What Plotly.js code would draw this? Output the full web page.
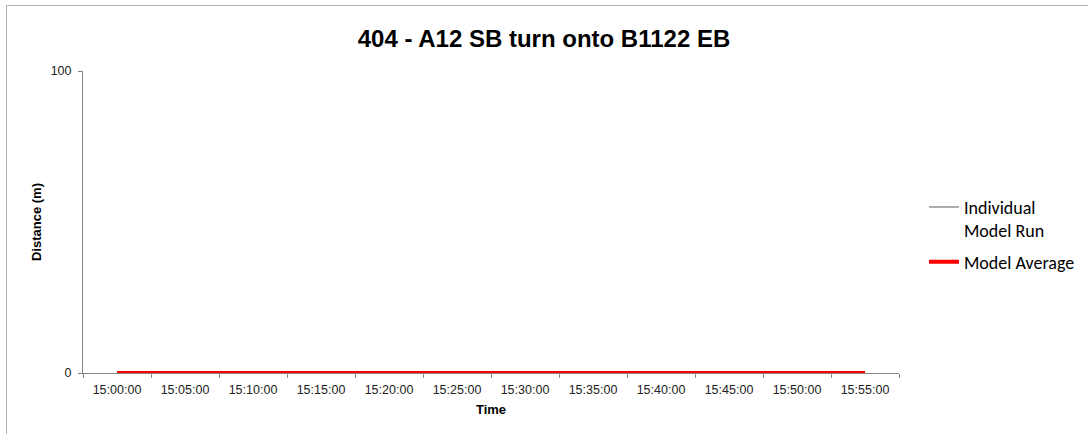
<!DOCTYPE html>
<html><head><meta charset="utf-8">
<script src="https://cdn.plot.ly/plotly-3.0.1.min.js"></script>
<style>
html,body{margin:0;padding:0;background:#fff;}
#wrap{position:relative;width:1088px;height:434px;overflow:hidden;}
#chart{position:absolute;left:0;top:0;width:1088px;height:434px;}
#frame{position:absolute;left:6px;top:5px;width:1200px;height:600px;border:1px solid #b0b0b0;pointer-events:none;}
</style>
</head><body>
<div id="wrap"><div id="chart"></div><div id="frame"></div></div>
<script>
const times = ["15:00:00","15:05:00","15:10:00","15:15:00","15:20:00","15:25:00","15:30:00","15:35:00","15:40:00","15:45:00","15:50:00","15:55:00"];
const individualRun = [0,0,0,0,0,0,0,0,0,0,0,0];
const modelAverage = [0,0,0,0,0,0,0,0,0,0,0,0];

const traces = [
  {x: times, y: individualRun, type:'scatter', mode:'lines', name:'Individual<br>Model Run',
   legendgroup:'run', line:{color:'#595959', width:1}},
  {x: times, y: modelAverage, type:'scatter', mode:'lines', name:'Model Average',
   legendgroup:'avg', line:{color:'#ff0000', width:4}}
];

const F = 'Liberation Sans, Arial, sans-serif';
const layout = {
  width:1088, height:434,
  margin:{l:83, r:189, t:71, b:61, autoexpand:false},
  paper_bgcolor:'rgba(0,0,0,0)', plot_bgcolor:'#fff',
  title:{text:'<b>404 - A12 SB turn onto B1122 EB</b>', font:{family:F, size:24, color:'#000'},
         x:0.5, xanchor:'center', y:0.912, yanchor:'middle'},
  xaxis:{type:'category', range:[-0.5, 11.5], showline:true, linecolor:'#868686', linewidth:1,
         ticks:'outside', tickson:'boundaries', ticklen:4, tickcolor:'#868686',
         showgrid:false, zeroline:false, ticklabelstandoff:5,
         tickfont:{family:F, size:12.5, color:'#222'},
         title:{text:'<b>Time</b>', font:{family:F, size:13, color:'#000'}, standoff:8}},
  yaxis:{range:[0,100], dtick:100, tick0:0, showline:true, linecolor:'#868686', linewidth:1,
         ticks:'outside', ticklen:4, tickcolor:'#868686', ticklabelstandoff:4,
         showgrid:true, gridcolor:'#d9d9d9', zeroline:false,
         tickfont:{family:F, size:12.5, color:'#222'},
         title:{text:'<b>Distance (m)</b>', font:{family:F, size:13, color:'#000'}, standoff:6}},
  legend:{x:1.0306, xanchor:'left', y:0.61, yanchor:'top', bgcolor:'rgba(0,0,0,0)', valign:'top',
          font:{family:'Carlito, Lato, sans-serif', size:18, color:'#000'}, tracegroupgap:5},
  showlegend:true
};
Plotly.newPlot('chart', traces, layout, {displayModeBar:false, staticPlot:true});
</script>
</body></html>
